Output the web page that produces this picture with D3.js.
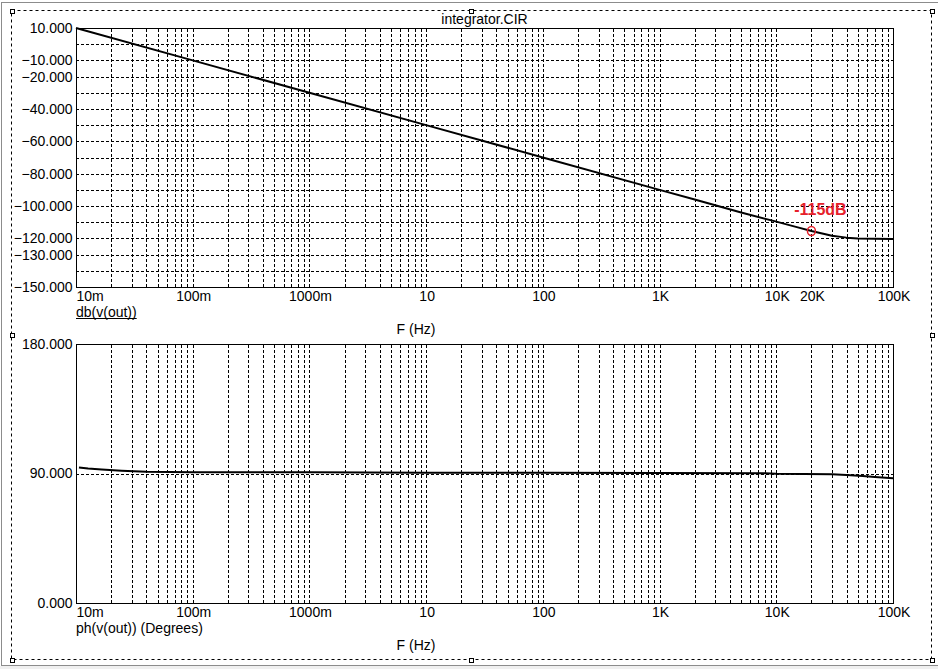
<!DOCTYPE html>
<html><head><meta charset="utf-8">
<script src="https://cdn.jsdelivr.net/npm/d3@7"></script>
<style>
html,body{margin:0;padding:0;background:#fff;}
svg{display:block;font-family:"Liberation Sans",Arial,sans-serif;}
</style></head><body>
<svg id="c" width="938" height="669"></svg>
<script>
// ---- data ----
const title = "integrator.CIR";
const magFreq = [0.01, 0.1, 1, 10, 100, 1000, 2000, 5000, 10000, 15000, 20000, 30000, 40000, 50000, 70000, 100000];
const magDb   = [10, -10, -30, -50, -70, -90, -96, -104, -109.6, -113, -115.4, -118.3, -119.5, -120, -120.2, -120.3];
const phFreq  = [0.0106, 0.0127, 0.0166, 0.0246, 0.04, 0.1, 1, 10, 100, 1000, 8000, 10000, 30000, 40000, 55000, 70000, 100000];
const phDeg   = [94.2, 93.4, 92.7, 91.9, 91.2, 90.9, 90.8, 90.6, 90.5, 90.3, 90.1, 89.8, 89.4, 88.9, 88.2, 87.5, 86.7];
const xTickValuesTop = [0.01, 0.1, 1, 10, 100, 1000, 10000, 20000, 100000];
const xTickLabelsTop = ["10m", "100m", "1000m", "10", "100", "1K", "10K", "20K", "100K"];
const xTickValuesBottom = [0.01, 0.1, 1, 10, 100, 1000, 10000, 100000];
const xTickLabelsBottom = ["10m", "100m", "1000m", "10", "100", "1K", "10K", "100K"];
const magTickValues = [10, -10, -20, -40, -60, -80, -100, -120, -130, -150];
const magGridValues = [0, -10, -20, -30, -40, -50, -60, -70, -80, -90, -100, -110, -120, -130, -140];
const phTickValues = [180, 90, 0];
const phGridValues = [90];
const magLabel = "db(v(out))";
const phLabel = "ph(v(out)) (Degrees)";
const xLabel = "F (Hz)";
const markerFreq = 20000, markerDb = -115.4, markerLabel = "-115dB";

// ---- layout ----
const L = 76, R = 893;
const top1 = 28, bot1 = 287;
const top2 = 344, bot2 = 603;
const FS = 14;
const red = "#e6202a";

const svg = d3.select("#c");

// window border
svg.append("rect").attr("x", 0).attr("y", 666).attr("width", 938).attr("height", 3).attr("fill", "#f0f0f0");
svg.append("line").attr("x1", 1.5).attr("x2", 1.5).attr("y1", 2).attr("y2", 666).attr("stroke", "#8c8c8c");
svg.append("line").attr("x1", 1).attr("x2", 938).attr("y1", 2.5).attr("y2", 2.5).attr("stroke", "#8c8c8c");
svg.append("line").attr("x1", 1).attr("x2", 938).attr("y1", 665.5).attr("y2", 665.5).attr("stroke", "#8c8c8c");

// dashed selection frame with handles
const fr = {x0: 11.5, x1: 931.5, y0: 10.5, y1: 659.5};
svg.append("rect").attr("x", fr.x0).attr("y", fr.y0).attr("width", fr.x1 - fr.x0).attr("height", fr.y1 - fr.y0)
  .attr("fill", "none").attr("stroke", "#000").attr("stroke-dasharray", "3,3");
const hx = [fr.x0, 471, fr.x1], hy = [fr.y0, 335, fr.y1];
hx.forEach((xx, i) => hy.forEach((yy, j) => {
  if (i === 1 && j === 1) return;
  svg.append("rect").attr("x", Math.round(xx) - 1.5).attr("y", Math.round(yy) - 1.5)
    .attr("width", 4).attr("height", 4).attr("fill", "#fff").attr("stroke", "#000");
}));

const x = d3.scaleLog().domain([0.01, 100000]).range([L, R]);
const gridX = x.ticks().filter(d => d > 0.0100001 && d < 99999);

function panel(yTop, yBot, yDomain, yTicks, yGrid, xTickVals, xTickLabs, data, label, underline) {
  const y = d3.scaleLinear().domain(yDomain).range([yBot, yTop]);
  const g = svg.append("g");
  // vertical grid
  g.append("g").attr("transform", `translate(0,${yBot})`)
    .call(d3.axisBottom(x).tickValues(gridX).tickSize(-(yBot - yTop)).tickFormat(""))
    .call(s => s.select(".domain").remove())
    .call(s => s.selectAll("line").attr("stroke", "#000").attr("stroke-dasharray", "3,2").attr("shape-rendering", "crispEdges"));
  // horizontal grid
  g.append("g").attr("transform", `translate(${L},0)`)
    .call(d3.axisLeft(y).tickValues(yGrid).tickSize(-(R - L)).tickFormat(""))
    .call(s => s.select(".domain").remove())
    .call(s => s.selectAll("line").attr("stroke", "#000").attr("stroke-dasharray", "3,2").attr("shape-rendering", "crispEdges"));
  // frame
  g.append("rect").attr("x", L + 0.5).attr("y", yTop + 0.5).attr("width", R - L).attr("height", yBot - yTop)
    .attr("fill", "none").attr("stroke", "#000").attr("stroke-width", 1).attr("shape-rendering", "crispEdges");
  // y labels
  g.append("g").attr("transform", `translate(${L},0)`)
    .call(d3.axisLeft(y).tickValues(yTicks).tickSize(0).tickPadding(3.5).tickFormat(d3.format(".3f")))
    .call(s => s.select(".domain").remove())
    .call(s => s.selectAll("text").attr("fill", "#000").attr("font-size", FS).attr("font-family", "Liberation Sans, Arial, sans-serif"));
  // x labels
  g.append("g").attr("transform", `translate(0,${yBot})`)
    .call(d3.axisBottom(x).tickValues(xTickVals).tickSize(0).tickPadding(4).tickFormat((d, i) => xTickLabs[i]))
    .call(s => s.select(".domain").remove())
    .call(s => s.selectAll("text").attr("fill", "#000").attr("font-size", FS).attr("font-family", "Liberation Sans, Arial, sans-serif")
      .attr("dy", "0").attr("y", 13.5)
      .attr("text-anchor", (d, i) => i === 0 ? "start" : "middle")
      .attr("x", (d, i) => i === 0 ? -x(d) + L : 0.5));
  // curve
  g.append("path").datum(data)
    .attr("fill", "none").attr("stroke", "#000").attr("stroke-width", 2).attr("stroke-linejoin", "round")
    .attr("d", d3.line().x(d => x(d[0])).y(d => y(d[1])));
  // trace label
  const t = g.append("text").attr("x", L).attr("y", yBot + 29.7).attr("font-size", FS).attr("fill", "#000").text(label);
  if (underline) {
    const w = t.node().getComputedTextLength();
    g.append("line").attr("x1", L).attr("x2", L + w).attr("y1", yBot + 31.5).attr("y2", yBot + 31.5)
      .attr("stroke", "#000").attr("stroke-width", 1);
  }
  // axis title
  g.append("text").attr("x", 416).attr("y", yBot + 46.5).attr("text-anchor", "middle")
    .attr("font-size", FS).attr("fill", "#000").text(xLabel);
  return y;
}

const yMag = panel(top1, bot1, [-150, 10], magTickValues, magGridValues, xTickValuesTop, xTickLabelsTop,
  magFreq.map((f, i) => [f, magDb[i]]), magLabel, true);
const yPh = panel(top2, bot2, [0, 180], phTickValues, phGridValues, xTickValuesBottom, xTickLabelsBottom,
  phFreq.map((f, i) => [f, phDeg[i]]), phLabel, false);

// title
svg.append("text").attr("x", (L + R) / 2).attr("y", 24).attr("text-anchor", "middle")
  .attr("font-size", FS).attr("fill", "#000").text(title);

// marker
svg.append("ellipse").attr("cx", x(markerFreq)).attr("cy", yMag(markerDb)).attr("rx", 4).attr("ry", 4.5)
  .attr("fill", "none").attr("stroke", red).attr("stroke-width", 1.5);
svg.append("text").attr("x", x(markerFreq) + 9).attr("y", yMag(markerDb) - 15.5).attr("text-anchor", "middle")
  .attr("font-size", 16).attr("font-weight", "bold").attr("fill", red).text(markerLabel);
</script>
</body></html>
